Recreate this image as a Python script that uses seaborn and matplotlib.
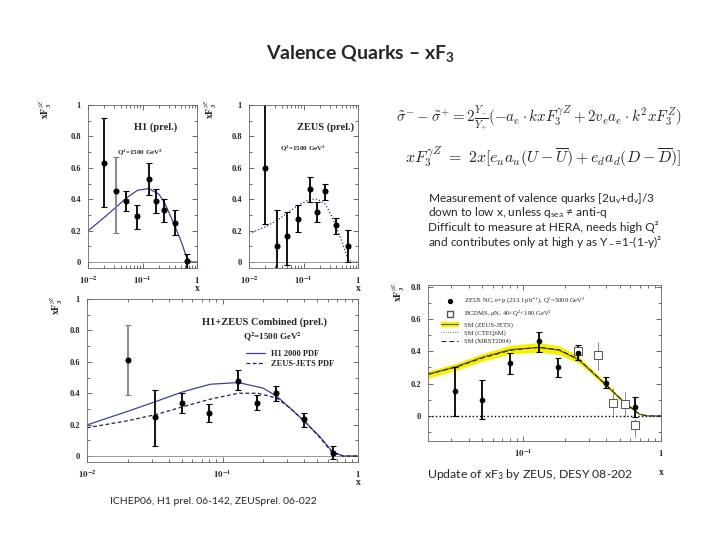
import matplotlib
matplotlib.use("Agg")
import matplotlib.pyplot as plt
import seaborn as sns
import numpy as np
from matplotlib.lines import Line2D
from matplotlib.patches import Patch
from matplotlib.ticker import NullFormatter, LogLocator, MultipleLocator

sns.set_theme(style="ticks")
plt.rcParams['font.family'] = ['Lato', 'DejaVu Sans']
plt.rcParams['mathtext.fontset'] = 'stix'

W, H = 720, 540

# x bins shared by the HERA 2006 measurements
x_bins = [0.02, 0.032, 0.05, 0.08, 0.13, 0.18, 0.25, 0.40, 0.65]

# H1 prel.
h1_y = [0.632, 0.453, 0.387, 0.291, 0.526, 0.389, 0.330, 0.249, 0.006]
h1_lo = [0.351, 0.187, 0.323, 0.213, 0.426, 0.315, 0.255, 0.170, -0.036]
h1_hi = [0.915, 0.670, 0.453, 0.366, 0.628, 0.462, 0.404, 0.334, 0.053]
h1_col = ['black', 'grey', 'black', 'black', 'black', 'black', 'black', 'black', 'black']

# ZEUS prel.
zeus_y = [0.600, 0.102, 0.166, 0.277, 0.468, 0.319, 0.451, 0.234, 0.102]
zeus_lo = [0.245, -0.18, -0.017, 0.191, 0.383, 0.255, 0.394, 0.181, 0.0]
zeus_hi = [1.02, 0.334, 0.319, 0.362, 0.543, 0.383, 0.500, 0.281, 0.202]

# H1+ZEUS combined
comb_y = [0.613, 0.247, 0.340, 0.277, 0.481, 0.340, 0.404, 0.234, 0.021]
comb_lo = [0.389, 0.064, 0.272, 0.219, 0.421, 0.294, 0.353, 0.187, -0.021]
comb_hi = [0.836, 0.421, 0.400, 0.332, 0.545, 0.389, 0.447, 0.272, 0.064]
comb_col = ['grey', 'black', 'black', 'black', 'black', 'black', 'black', 'black', 'black']

# PDF predictions, Q2 = 1500 GeV2
h1pdf_x = [0.01, 0.02, 0.0322, 0.0506, 0.081, 0.131, 0.20, 0.253, 0.32, 0.405, 0.523, 0.647, 0.776, 1.0]
h1pdf_y = [0.198, 0.285, 0.347, 0.408, 0.457, 0.468, 0.432, 0.379, 0.300, 0.219, 0.123, 0.028, 0.0, 0.0]
zjpdf_x = [0.01, 0.02, 0.0322, 0.0506, 0.081, 0.131, 0.182, 0.253, 0.32, 0.405, 0.523, 0.647, 0.776, 1.0]
zjpdf_y = [0.180, 0.225, 0.264, 0.313, 0.362, 0.400, 0.400, 0.368, 0.300, 0.219, 0.118, 0.021, 0.0, 0.0]

# ZEUS 2008 (DESY 08-202)
z08_x = [0.032, 0.05, 0.08, 0.13, 0.18, 0.25, 0.40, 0.65]
z08_y = [0.153, 0.097, 0.325, 0.463, 0.300, 0.390, 0.205, 0.056]
z08_lo = [0.0, -0.021, 0.258, 0.397, 0.242, 0.345, 0.170, -0.006]
z08_hi = [0.304, 0.221, 0.390, 0.521, 0.356, 0.438, 0.242, 0.118]

bcdms_x = [0.25, 0.35, 0.45, 0.55, 0.65]
bcdms_y = [0.401, 0.380, 0.083, 0.072, -0.058]
bcdms_lo = [0.385, 0.283, 0.004, -0.005, -0.130]
bcdms_hi = [0.417, 0.459, 0.170, 0.150, -0.017]

sm_x = [0.0203, 0.0325, 0.0502, 0.081, 0.13, 0.182, 0.251, 0.30, 0.40, 0.55, 0.70, 0.80, 1.0]
sm_y = [0.256, 0.304, 0.362, 0.411, 0.424, 0.407, 0.349, 0.290, 0.190, 0.077, 0.010, 0.0, 0.0]
sm_band = [0.022, 0.022, 0.024, 0.027, 0.030, 0.027, 0.022, 0.018, 0.014, 0.009, 0.004, 0.0, 0.0]
cteq_y = [0.262, 0.308, 0.364, 0.410, 0.421, 0.404, 0.346, 0.287, 0.188, 0.076, 0.010, 0.0, 0.0]
mrst_y = [0.258, 0.302, 0.358, 0.406, 0.425, 0.410, 0.352, 0.292, 0.192, 0.079, 0.011, 0.0, 0.0]


def rect(x0, y0, x1, y1):
    return [x0 / W, 1 - y1 / H, (x1 - x0) / W, (y1 - y0) / H]


serif = dict(fontfamily='Liberation Serif', fontweight='bold')


def setup_panel(ax, xlim, ylim, yticks, ylabels, xticks, xlabels):
    ax.set_xscale('log')
    ax.set_xlim(xlim)
    ax.set_ylim(ylim)
    ax.set_yticks(yticks, ylabels, fontsize=6, **serif)
    ax.set_xticks(xticks, xlabels, fontsize=6.5, **serif)
    ax.yaxis.set_minor_locator(MultipleLocator(0.1))
    ax.xaxis.set_minor_locator(LogLocator(base=10, subs=np.arange(2, 10)))
    ax.xaxis.set_minor_formatter(NullFormatter())
    ax.tick_params(which='both', direction='in', top=True, right=True,
                   color='#555', width=0.6)
    ax.tick_params(which='major', length=3.5, pad=5)
    ax.tick_params(which='minor', length=2)
    for sp in ax.spines.values():
        sp.set_color('#666')
        sp.set_linewidth(0.6)


def draw_points(ax, xs, ys, lo, hi, cols, marker='o', face='black', size=14):
    for xi, yi, l, h, c in zip(xs, ys, lo, hi, cols):
        ax.errorbar([xi], [yi], yerr=[[yi - l], [h - yi]], fmt='none',
                    ecolor=c, elinewidth=1.3, capsize=2.2, capthick=0.8)
    sns.scatterplot(x=xs, y=ys, ax=ax, marker=marker, s=size, color=face,
                    edgecolor='black', linewidth=0.6, zorder=5)


fig = plt.figure(figsize=(7.2, 5.4), dpi=100)
fig.patch.set_facecolor('white')

lab3 = ["$\\mathbf{10^{-2}}$", "$\\mathbf{10^{-1}}$", "$\\mathbf{1}$"]
ylab = ['0', '0.2', '0.4', '0.6', '0.8', '1']
yt = [0, 0.2, 0.4, 0.6, 0.8, 1.0]
yname = "$\\mathbf{xF}_\\mathbf{3}^{\\gamma Z}$"

# H1 panel
ax1 = fig.add_axes(rect(88, 105, 197, 268))
setup_panel(ax1, (0.01, 1), (-0.038, 1.0), yt, ylab, [0.01, 0.1, 1], lab3)
ax1.axhline(0, color='#888', lw=0.6)
sns.lineplot(x=h1pdf_x, y=h1pdf_y, ax=ax1, color='#4040a0', lw=0.9, estimator=None, sort=False)
draw_points(ax1, x_bins, h1_y, h1_lo, h1_hi, h1_col)
ax1.text(0.62, 0.865, 'H1 (prel.)', transform=ax1.transAxes, ha='center', va='center', fontsize=7.5, **serif)
ax1.text(0.27, 0.71, 'Q$^{\\mathbf{2}}$=1500 GeV$^{\\mathbf{2}}$', transform=ax1.transAxes,
         ha='left', va='center', fontsize=5, **serif)
ax1.text(-0.39, 0.975, yname, transform=ax1.transAxes, rotation=90, ha='center', va='center', fontsize=7)
ax1.text(1.0, -0.125, 'x', transform=ax1.transAxes, ha='center', va='center', fontsize=7, **serif)

# ZEUS panel
ax2 = fig.add_axes(rect(249, 105, 358, 268))
setup_panel(ax2, (0.01, 1), (-0.038, 1.0), yt, ylab, [0.01, 0.1, 1], lab3)
ax2.axhline(0, color='#888', lw=0.6)
sns.lineplot(x=zjpdf_x, y=zjpdf_y, ax=ax2, color='#303080', lw=0.9, linestyle=':', estimator=None, sort=False)
draw_points(ax2, x_bins, zeus_y, zeus_lo, zeus_hi, ['black'] * 9)
ax2.text(0.7, 0.865, 'ZEUS (prel.)', transform=ax2.transAxes, ha='center', va='center', fontsize=7.5, **serif)
ax2.text(0.5, 0.735, 'Q$^{\\mathbf{2}}$=1500 GeV$^{\\mathbf{2}}$', transform=ax2.transAxes,
         ha='center', va='center', fontsize=5, **serif)
ax2.text(-0.35, 0.975, yname, transform=ax2.transAxes, rotation=90, ha='center', va='center', fontsize=7)
ax2.text(1.0, -0.125, 'x', transform=ax2.transAxes, ha='center', va='center', fontsize=7, **serif)

# H1+ZEUS combined panel
ax3 = fig.add_axes(rect(87, 299, 358, 462))
setup_panel(ax3, (0.01, 1), (-0.038, 1.0), yt, ylab, [0.01, 0.1, 1], lab3)
ax3.axhline(0, color='#888', lw=0.6)
sns.lineplot(x=h1pdf_x, y=h1pdf_y, ax=ax3, color='#4040a0', lw=0.9, estimator=None, sort=False)
sns.lineplot(x=zjpdf_x, y=zjpdf_y, ax=ax3, color='#202060', lw=0.9, linestyle=(0, (3, 2)),
             estimator=None, sort=False)
draw_points(ax3, x_bins, comb_y, comb_lo, comb_hi, comb_col)
ax3.text(0.655, 0.86, 'H1+ZEUS Combined (prel.)', transform=ax3.transAxes, ha='center', va='center',
         fontsize=7.5, **serif)
ax3.text(0.576, 0.767, 'Q$^{\\mathbf{2}}$=1500 GeV$^{\\mathbf{2}}$', transform=ax3.transAxes,
         ha='left', va='center', fontsize=6.5, **serif)
h3 = [Line2D([], [], color='#4040a0', lw=0.9),
      Line2D([], [], color='#202060', lw=0.9, linestyle=(0, (3, 2)))]
ax3.legend(h3, ['H1 2000 PDF', 'ZEUS-JETS PDF'], loc='upper left', bbox_to_anchor=(0.56, 0.735),
           frameon=False, handlelength=2.2, handletextpad=0.8, labelspacing=0.3,
           prop=dict(family='Liberation Serif', weight='bold', size=6))
ax3.text(-0.11, 0.963, yname, transform=ax3.transAxes, rotation=90, ha='center', va='center', fontsize=7)
ax3.text(1.0, -0.125, 'x', transform=ax3.transAxes, ha='center', va='center', fontsize=7, **serif)

# ZEUS 2008 panel
ax4 = fig.add_axes(rect(428, 285, 661, 441))
setup_panel(ax4, (0.0203, 1), (-0.155, 0.81), [0, 0.2, 0.4, 0.6, 0.8],
            ['0', '0.2', '0.4', '0.6', '0.8'], [0.1, 1], lab3[1:])
ax4.axhline(0, color='black', lw=1.0, linestyle=':')
sm_lo = [a - b for a, b in zip(sm_y, sm_band)]
sm_hi = [a + b for a, b in zip(sm_y, sm_band)]
ax4.fill_between(sm_x, sm_lo, sm_hi, color='#f8f000', lw=0, zorder=1)
sns.lineplot(x=sm_x, y=sm_y, ax=ax4, color='#555500', lw=0.7, estimator=None, sort=False)
sns.lineplot(x=sm_x, y=cteq_y, ax=ax4, color='#444', lw=0.6, linestyle=':', estimator=None, sort=False)
sns.lineplot(x=sm_x, y=mrst_y, ax=ax4, color='#222', lw=0.7, linestyle=(0, (5, 3)),
             estimator=None, sort=False)
for xi, yi, l, h in zip(bcdms_x, bcdms_y, bcdms_lo, bcdms_hi):
    ax4.errorbar([xi], [yi], yerr=[[yi - l], [h - yi]], fmt='none', ecolor='#888', elinewidth=0.7)
sns.scatterplot(x=bcdms_x, y=bcdms_y, ax=ax4, marker='s', s=30, facecolor='white',
                edgecolor='#555', linewidth=0.7, zorder=5)
draw_points(ax4, z08_x, z08_y, z08_lo, z08_hi, ['black'] * 8, size=12)
h4 = [Line2D([], [], marker='o', color='black', ls='none', ms=2.8),
      Line2D([], [], marker='s', mfc='white', mec='#555', ls='none', ms=5),
      (Patch(color='#f8f000'), Line2D([], [], color='#555500', lw=0.7)),
      Line2D([], [], color='#444', lw=0.6, linestyle=':'),
      Line2D([], [], color='#222', lw=0.7, linestyle=(0, (5, 3)))]
l4 = ['ZEUS NC, e$^{\\pm}$p (233.1 pb$^{-1}$), Q$^2$=5000 GeV$^2$',
      'BCDMS, $\\mu$N, 40<Q$^2$<180 GeV$^2$',
      'SM (ZEUS-JETS)', 'SM (CTEQ6M)', 'SM (MRST2004)']
ax4.legend(h4, l4, loc='upper left', bbox_to_anchor=(0.03, 0.97), frameon=False,
           handlelength=2.6, handletextpad=0.8, labelspacing=0.35,
           prop=dict(family='Liberation Serif', size=4.8))
ax4.text(-0.125, 0.955, yname, transform=ax4.transAxes, rotation=90, ha='center', va='center', fontsize=7)
ax4.text(1.0, -0.2, 'x', transform=ax4.transAxes, ha='center', va='center', fontsize=7, **serif)

# slide text
fig.text(360 / W, 1 - 53 / H, 'Valence Quarks \u2013 xF$\\mathregular{_3}$', ha='center', va='center',
         fontsize=14, fontweight='bold')
fig.text(396 / W, 1 - 118 / H,
         "$\\tilde{\\sigma}^{-} - \\tilde{\\sigma}^{+} = 2\\frac{Y_{-}}{Y_{+}}"
         "(-a_e\\cdot kxF_3^{\\gamma Z} + 2v_e a_e\\cdot k^2 xF_3^Z)$",
         ha='left', va='center', fontsize=10.8, math_fontfamily='cm')
fig.text(405 / W, 1 - 157 / H,
         "$xF_3^{\\gamma Z}\\ =\\ 2x[e_u a_u(U-\\overline{U}) + e_d a_d(D-\\overline{D})]$",
         ha='left', va='center', fontsize=11.5, math_fontfamily='cm')
lines = ['Measurement of valence quarks [2u$\\mathregular{_v}$+d$\\mathregular{_v}$]/3',
         'down to low x, unless q$\\mathregular{_{sea}}$ \u2260 anti-q',
         'Difficult to measure at HERA, needs high Q\u00b2',
         'and contributes only at high y as Y$\\mathregular{_-}$=1-(1-y)\u00b2']
for i, t in enumerate(lines):
    fig.text(428 / W, 1 - (198 + 14.7 * i) / H, t, ha='left', va='center', fontsize=8.6)
fig.text(427 / W, 1 - 475 / H, 'Update of xF$\\mathregular{_3}$ by ZEUS, DESY 08-202',
         ha='left', va='center', fontsize=8.8)
fig.text(110 / W, 1 - 502 / H, 'ICHEP06, H1 prel. 06-142, ZEUSprel. 06-022',
         ha='left', va='center', fontsize=7.5)

fig.savefig('out.png', dpi=100, facecolor='white')
